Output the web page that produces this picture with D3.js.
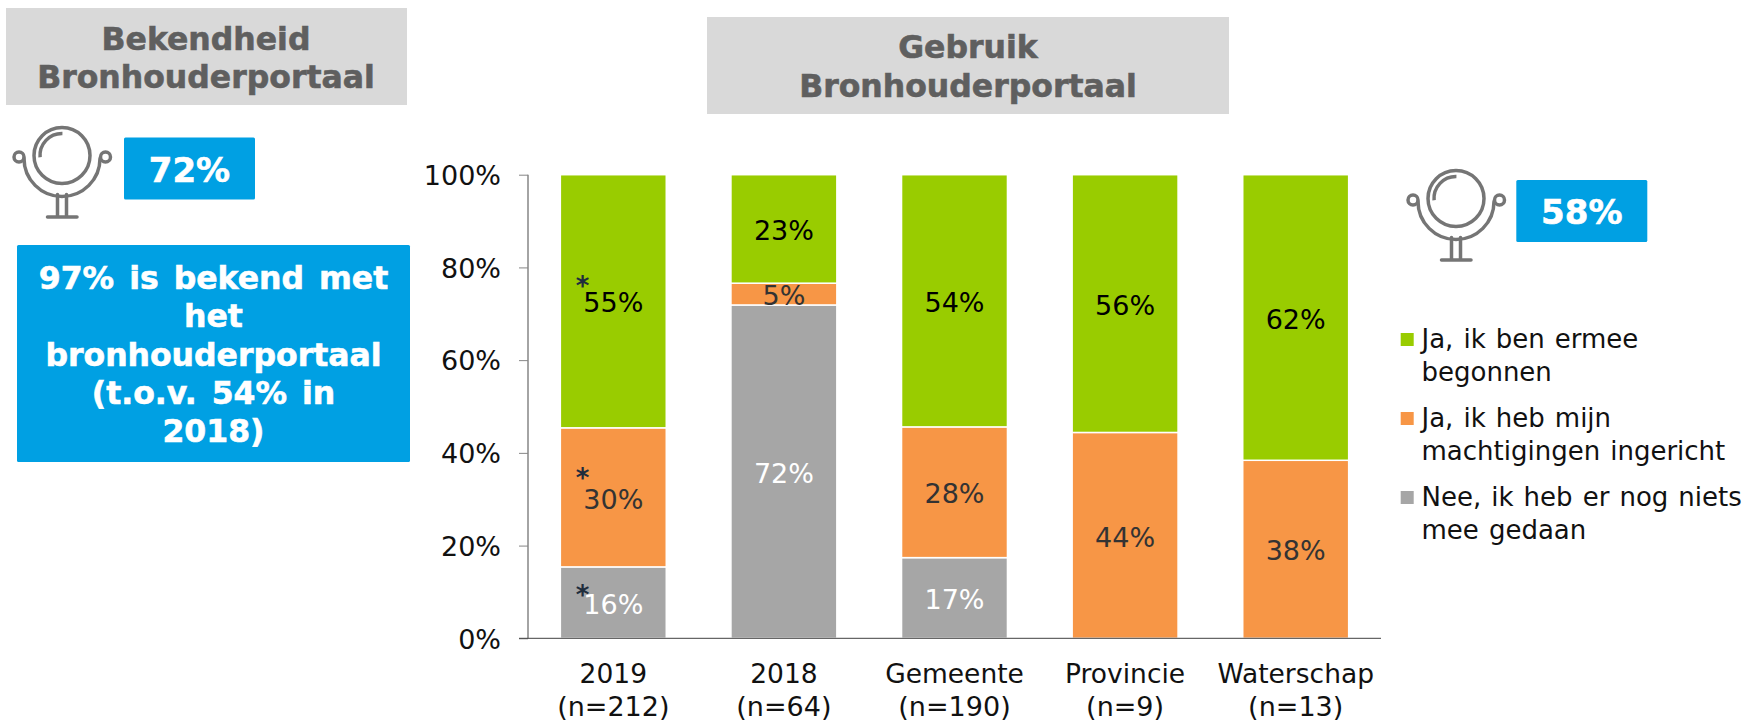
<!DOCTYPE html>
<html><head><meta charset="utf-8">
<script src="https://cdn.jsdelivr.net/npm/d3@7/dist/d3.min.js"></script>
<style>html,body{margin:0;padding:0;background:#fff}svg{display:block}text{font-family:"DejaVu Sans",sans-serif}</style>
</head><body><svg id="c" width="1749" height="722"></svg>
<script>
const categories=["2019","2018","Gemeente","Provincie","Waterschap"];
const sampleSizes=["(n=212)","(n=64)","(n=190)","(n=9)","(n=13)"];
const nee=[15.4,71.9,17.4,0,0];
const machtigingen=[30,4.7,28.2,44.4,38.4];
const begonnen=[54.6,23.4,54.4,55.6,61.6];
const neeLabels=["16%","72%","17%","",""];
const machtigingenLabels=["30%","5%","28%","44%","38%"];
const begonnenLabels=["55%","23%","54%","56%","62%"];
const yTicks=[0,20,40,60,80,100];
const legendLines=[["Ja, ik ben ermee","begonnen"],["Ja, ik heb mijn","machtigingen ingericht"],["Nee, ik heb er nog niets","mee gedaan"]];
const GREEN="#99cc00",ORANGE="#f79646",GRAY="#a6a6a6",BLUE="#00a0e3";

const svg=d3.select("#c");
const x=d3.scaleBand().domain(categories).range([528,1381]).paddingInner(0.385).paddingOuter(0.1925);
const y=d3.scaleLinear().domain([0,100]).range([638.3,174.7]);

function box(x0,y0,w,h,fill,r){svg.append("rect").attr("x",x0).attr("y",y0).attr("width",w).attr("height",h).attr("fill",fill).attr("rx",r||0);}
function label(t,px,py,size,fill,weight,anchor){return svg.append("text").attr("x",px).attr("y",py).attr("font-size",size).attr("fill",fill).attr("font-weight",weight||"normal").attr("text-anchor",anchor||"middle").text(t);}
function heavy(sel,col){return sel.attr("stroke",col).attr("stroke-width",0.6);}

// headers
box(6,8,401,97,"#d9d9d9");
heavy(label("Bekendheid",206,49.5,31.5,"#5f5f5f","bold"),"#5f5f5f");
heavy(label("Bronhouderportaal",206,88,31.5,"#5f5f5f","bold"),"#5f5f5f");
box(707,17,522,97,"#d9d9d9");
heavy(label("Gebruik",968,58,31.5,"#5f5f5f","bold"),"#5f5f5f");
heavy(label("Bronhouderportaal",968,97,31.5,"#5f5f5f","bold"),"#5f5f5f");

// callouts
box(124,137.5,131,62,BLUE,1.5);
heavy(label("72%",189.5,181.5,34,"#fff","bold"),"#fff");
box(1516.3,180,131,62,BLUE,1.5);
heavy(label("58%",1581.8,224,34,"#fff","bold"),"#fff");
box(17,245,393,217,BLUE,1.5);
["97% is bekend met","het","bronhouderportaal","(t.o.v. 54% in","2018)"].forEach((t,i)=>heavy(label(t,213.5,289.3+i*38.1,31.5,"#fff","bold"),"#fff").attr("word-spacing",4));

// mirror icons
function mirror(cx,cy){
  const g=svg.append("g").attr("transform",`translate(${cx},${cy})`).attr("fill","none").attr("stroke","#757575").attr("stroke-width",3.5).attr("stroke-linecap","round");
  g.append("circle").attr("r",28);
  g.append("path").attr("d",d3.arc()({innerRadius:22,outerRadius:22,startAngle:-Math.PI/2-0.08,endAngle:0.02}));
  g.append("path").attr("d","M-38,3 A38,38 0 0 0 38,3");
  g.append("circle").attr("cx",-43).attr("cy",1.5).attr("r",5);
  g.append("circle").attr("cx",43.5).attr("cy",1.5).attr("r",5);
  g.append("path").attr("d","M-4.5,39 V61.5 M4.5,39 V61.5 M-14.5,61.5 H15");
}
mirror(62,155.5);
mirror(1456,198.5);

// stacked bars
const series=[[nee,GRAY],[machtigingen,ORANGE],[begonnen,GREEN]];
const stacked=categories.map((c,i)=>{let b=0;return series.map(([v,col])=>{const o={c,y0:b,y1:b+v[i],col};b+=v[i];return o;});}).flat().filter(d=>d.y1>d.y0);
svg.append("g").selectAll("rect").data(stacked).join("rect")
 .attr("x",d=>x(d.c)-0.5).attr("width",x.bandwidth()+1)
 .attr("y",d=>y(d.y1)).attr("height",d=>y(d.y0)-y(d.y1))
 .attr("fill",d=>d.col).attr("stroke","#fff").attr("stroke-width",1.5);

// axes
const yAxis=d3.axisLeft(y).tickValues(yTicks).tickFormat(d=>d+"%").tickSize(9).tickPadding(18);
const ya=svg.append("g").attr("transform","translate(528,0)").call(yAxis);
ya.selectAll("path.domain").attr("stroke","#868686").attr("stroke-width",1.5).attr("d","M0,174.7V638.3");
ya.selectAll(".tick line").attr("stroke","#868686").attr("stroke-width",1);
ya.selectAll("text").attr("font-size",27).attr("font-family","DejaVu Sans").attr("fill","#111").attr("dy","0.36em");
svg.append("line").attr("x1",519).attr("x2",1381).attr("y1",638.3).attr("y2",638.3).attr("stroke","#404040").attr("stroke-width",1);

const xa=svg.append("g").attr("transform","translate(0,638.3)").call(d3.axisBottom(x).tickSize(0).tickPadding(0));
xa.select("path.domain").remove();
xa.selectAll("text").attr("font-size",26.5).attr("font-family","DejaVu Sans").attr("fill","#111").attr("y",45).attr("dy",0);
categories.forEach((c,i)=>label(sampleSizes[i],x(c)+x.bandwidth()/2,715.5,27,"#111"));

// value labels
function valueLabels(labels,base,vals,fill){
  labels.forEach((t,i)=>{ if(!t) return;
    const mid=(base[i]+base[i]+vals[i])/2;
    label(t,x(categories[i])+x.bandwidth()/2,y(mid)+11.2,27,fill);
  });
}
valueLabels(neeLabels,nee.map(()=>0),nee,"#fff");
valueLabels(machtigingenLabels,nee,machtigingen,"#333");
valueLabels(begonnenLabels,nee.map((n,i)=>n+machtigingen[i]),begonnen,"#000");

// asterisks
[[54.6,45.4],[30,15.4],[15.4,0]].forEach(([v,b],i)=>{
  const mid=b+v/2;
  const off=[18.5,23,11.5][i];
  label("*",582.5,y(mid)-off+12.5,26,"#1f2d3d","bold");
});

// legend
[GREEN,ORANGE,GRAY].forEach((col,i)=>{
  const ty=[333,412,491][i];
  box(1400.7,ty,13,13,col);
  legendLines[i].forEach((t,j)=>label(t,1421.5,ty+15+j*32.5,26,"#111","normal","start").attr("word-spacing",1.8));
});
</script></body></html>
